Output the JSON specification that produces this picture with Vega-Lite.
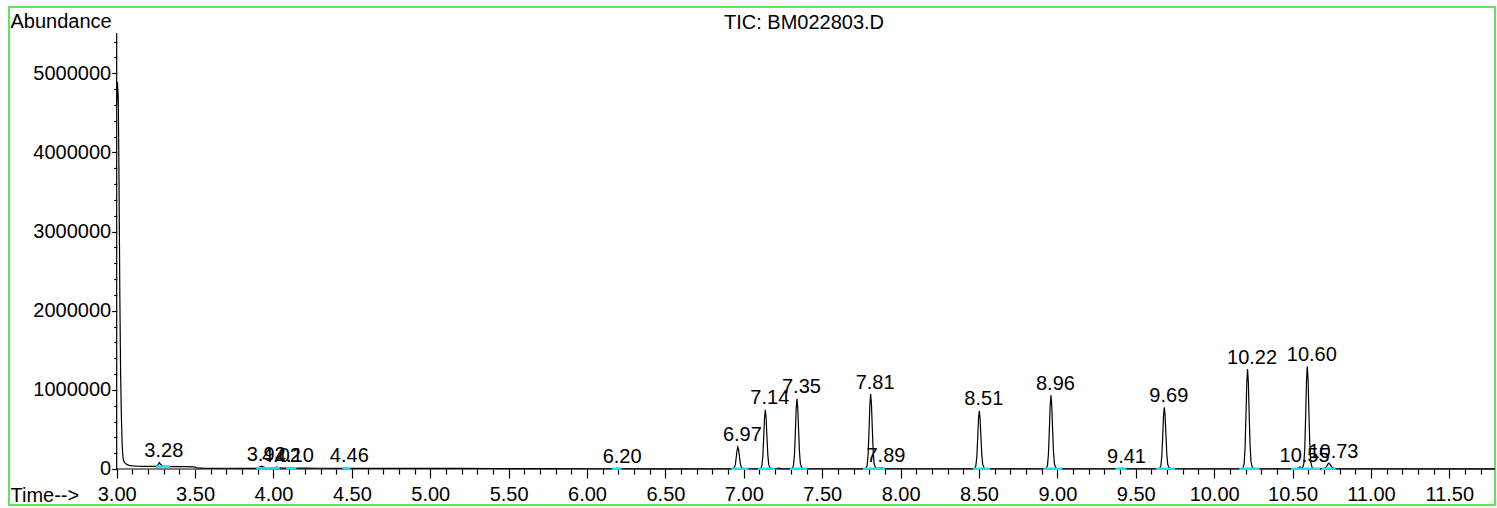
{
  "$schema": "https://vega.github.io/schema/vega-lite/v6.json",
  "width": 1486,
  "height": 498,
  "autosize": {"type": "none"},
  "padding": {"left": 9, "top": 7, "right": 2, "bottom": 3},
  "background": "white",
  "config": {"view": {"stroke": "#5be85b", "strokeWidth": 2}},
  "title": {"text": "TIC: BM022803.D", "font": "Liberation Sans", "fontSize": 20, "fontWeight": "normal", "color": "black", "anchor": "middle", "frame": "group", "dx": 52, "dy": 22, "offset": -20, "baseline": "alphabetic"},
  "datasets": {
    "yline": [{"t": 3.0, "a": 0, "a2": 5510000}],
    "xline": [{"t": 3.0, "t2": 11.7913, "a": 0}],
    "bases": [
      {"t": 3.25, "t2": 3.34, "a": 30000},
      {"t": 3.89, "t2": 3.98, "a": 9000},
      {"t": 3.98, "t2": 4.04, "a": 9000},
      {"t": 4.08, "t2": 4.145, "a": 9000},
      {"t": 4.44, "t2": 4.49, "a": 8000},
      {"t": 6.16, "t2": 6.22, "a": 3000},
      {"t": 6.92, "t2": 7.03, "a": 3000},
      {"t": 7.09, "t2": 7.20, "a": 3000},
      {"t": 7.295, "t2": 7.405, "a": 3000},
      {"t": 7.76, "t2": 7.83, "a": 3000},
      {"t": 7.83, "t2": 7.90, "a": 3000},
      {"t": 8.46, "t2": 8.57, "a": 3000},
      {"t": 8.91, "t2": 9.03, "a": 3000},
      {"t": 9.37, "t2": 9.44, "a": 3000},
      {"t": 9.63, "t2": 9.75, "a": 3000},
      {"t": 10.16, "t2": 10.29, "a": 3000},
      {"t": 10.49, "t2": 10.61, "a": 3000},
      {"t": 10.61, "t2": 10.675, "a": 3000},
      {"t": 10.685, "t2": 10.775, "a": 3000}
    ],
    "peaks": [
      {"t": 3.272, "a": 80000, "label": "3.28"},
      {"t": 3.925, "a": 35000, "label": "3.92"},
      {"t": 4.022, "a": 25000, "label": "4.02"},
      {"t": 4.105, "a": 18000, "label": "4.10"},
      {"t": 4.455, "a": 14000, "label": "4.46"},
      {"t": 6.195, "a": 10000, "label": "6.20"},
      {"t": 6.962, "a": 278000, "label": "6.97"},
      {"t": 7.137, "a": 748000, "label": "7.14"},
      {"t": 7.339, "a": 888000, "label": "7.35"},
      {"t": 7.809, "a": 947000, "label": "7.81"},
      {"t": 7.878, "a": 15000, "label": "7.89"},
      {"t": 8.502, "a": 736000, "label": "8.51"},
      {"t": 8.959, "a": 930000, "label": "8.96"},
      {"t": 9.412, "a": 12000, "label": "9.41"},
      {"t": 9.682, "a": 778000, "label": "9.69"},
      {"t": 10.213, "a": 1263000, "label": "10.22"},
      {"t": 10.548, "a": 25000, "label": "10.55"},
      {"t": 10.594, "a": 1296000, "label": "10.60"},
      {"t": 10.732, "a": 75000, "label": "10.73"}
    ],
    "trace": [
      {"t": 3.000, "a": 4600000}, {"t": 3.005, "a": 4890000}, {"t": 3.010, "a": 4700000}, {"t": 3.015, "a": 3600000},
      {"t": 3.020, "a": 2200000}, {"t": 3.025, "a": 1200000}, {"t": 3.030, "a": 660000}, {"t": 3.035, "a": 300000},
      {"t": 3.040, "a": 150000}, {"t": 3.045, "a": 100000}, {"t": 3.050, "a": 80000}, {"t": 3.060, "a": 62000},
      {"t": 3.070, "a": 52000}, {"t": 3.080, "a": 46000}, {"t": 3.100, "a": 40000}, {"t": 3.130, "a": 36000},
      {"t": 3.160, "a": 34000}, {"t": 3.200, "a": 33000}, {"t": 3.240, "a": 32000}, {"t": 3.255, "a": 33000},
      {"t": 3.265, "a": 55000}, {"t": 3.272, "a": 80000}, {"t": 3.280, "a": 60000}, {"t": 3.290, "a": 38000},
      {"t": 3.300, "a": 32000}, {"t": 3.350, "a": 31000}, {"t": 3.400, "a": 30000}, {"t": 3.450, "a": 29000},
      {"t": 3.490, "a": 28000}, {"t": 3.500, "a": 24000}, {"t": 3.510, "a": 16000}, {"t": 3.520, "a": 12000},
      {"t": 3.550, "a": 10000}, {"t": 3.600, "a": 9000}, {"t": 3.700, "a": 9500}, {"t": 3.800, "a": 9000},
      {"t": 3.880, "a": 9000}, {"t": 3.905, "a": 15000}, {"t": 3.915, "a": 28000}, {"t": 3.925, "a": 35000},
      {"t": 3.935, "a": 28000}, {"t": 3.950, "a": 15000}, {"t": 3.980, "a": 11000}, {"t": 4.005, "a": 15000},
      {"t": 4.015, "a": 22000}, {"t": 4.022, "a": 25000}, {"t": 4.030, "a": 18000}, {"t": 4.050, "a": 11000},
      {"t": 4.090, "a": 12000}, {"t": 4.105, "a": 18000}, {"t": 4.115, "a": 12000}, {"t": 4.200, "a": 10000},
      {"t": 4.300, "a": 9500}, {"t": 4.440, "a": 9000}, {"t": 4.455, "a": 14000}, {"t": 4.470, "a": 9000},
      {"t": 4.600, "a": 8500}, {"t": 4.800, "a": 8000}, {"t": 5.000, "a": 7500}, {"t": 5.200, "a": 7000},
      {"t": 5.400, "a": 6500}, {"t": 5.500, "a": 6000}, {"t": 5.560, "a": 4000}, {"t": 5.700, "a": 3500},
      {"t": 6.000, "a": 3000}, {"t": 6.180, "a": 3000}, {"t": 6.195, "a": 10000}, {"t": 6.210, "a": 3000},
      {"t": 6.500, "a": 2500}, {"t": 6.932, "a": 3000},
      {"t": 6.940, "a": 16750}, {"t": 6.946, "a": 58000}, {"t": 6.952, "a": 151500}, {"t": 6.957, "a": 239500},
      {"t": 6.962, "a": 278000}, {"t": 6.967, "a": 242250}, {"t": 6.972, "a": 159750}, {"t": 6.978, "a": 69000},
      {"t": 6.984, "a": 22250}, {"t": 6.992, "a": 7125}, {"t": 7.002, "a": 3000}, {"t": 7.107, "a": 3000},
      {"t": 7.115, "a": 40250}, {"t": 7.121, "a": 152000}, {"t": 7.127, "a": 405300}, {"t": 7.132, "a": 643700},
      {"t": 7.137, "a": 748000}, {"t": 7.142, "a": 651150}, {"t": 7.147, "a": 427650}, {"t": 7.153, "a": 181800},
      {"t": 7.159, "a": 55150}, {"t": 7.167, "a": 14175}, {"t": 7.177, "a": 5000}, {"t": 7.190, "a": 4000},
      {"t": 7.210, "a": 6000}, {"t": 7.222, "a": 12000}, {"t": 7.235, "a": 4000}, {"t": 7.309, "a": 3000},
      {"t": 7.317, "a": 47250}, {"t": 7.323, "a": 180000}, {"t": 7.329, "a": 480900}, {"t": 7.334, "a": 764100},
      {"t": 7.339, "a": 888000}, {"t": 7.344, "a": 772950}, {"t": 7.349, "a": 507450}, {"t": 7.355, "a": 215400},
      {"t": 7.361, "a": 64950}, {"t": 7.369, "a": 16275}, {"t": 7.379, "a": 3000}, {"t": 7.779, "a": 3000},
      {"t": 7.787, "a": 50200}, {"t": 7.793, "a": 191800}, {"t": 7.799, "a": 512760}, {"t": 7.804, "a": 814840},
      {"t": 7.809, "a": 947000}, {"t": 7.814, "a": 824280}, {"t": 7.819, "a": 541080}, {"t": 7.825, "a": 229560},
      {"t": 7.831, "a": 69080}, {"t": 7.839, "a": 17160}, {"t": 7.850, "a": 8000}, {"t": 7.865, "a": 10000},
      {"t": 7.878, "a": 15000}, {"t": 7.890, "a": 8000}, {"t": 7.910, "a": 3000}, {"t": 8.472, "a": 3000},
      {"t": 8.480, "a": 39650}, {"t": 8.486, "a": 149600}, {"t": 8.492, "a": 398820}, {"t": 8.497, "a": 633380},
      {"t": 8.502, "a": 736000}, {"t": 8.507, "a": 640710}, {"t": 8.512, "a": 420810}, {"t": 8.518, "a": 178920},
      {"t": 8.524, "a": 54310}, {"t": 8.532, "a": 13995}, {"t": 8.542, "a": 3000}, {"t": 8.929, "a": 3000},
      {"t": 8.937, "a": 49350}, {"t": 8.943, "a": 188400}, {"t": 8.949, "a": 503580}, {"t": 8.954, "a": 800220},
      {"t": 8.959, "a": 930000}, {"t": 8.964, "a": 809490}, {"t": 8.969, "a": 531390}, {"t": 8.975, "a": 225480},
      {"t": 8.981, "a": 67890}, {"t": 8.989, "a": 16905}, {"t": 8.999, "a": 3000}, {"t": 9.390, "a": 3000},
      {"t": 9.405, "a": 8000}, {"t": 9.412, "a": 12000}, {"t": 9.420, "a": 7000}, {"t": 9.435, "a": 3000},
      {"t": 9.652, "a": 3000}, {"t": 9.660, "a": 41750}, {"t": 9.666, "a": 158000}, {"t": 9.672, "a": 421500},
      {"t": 9.677, "a": 669500}, {"t": 9.682, "a": 778000}, {"t": 9.687, "a": 677250}, {"t": 9.692, "a": 444750},
      {"t": 9.698, "a": 189000}, {"t": 9.704, "a": 57250}, {"t": 9.712, "a": 14625}, {"t": 9.722, "a": 3000},
      {"t": 10.183, "a": 3000}, {"t": 10.191, "a": 66000}, {"t": 10.197, "a": 255000}, {"t": 10.203, "a": 683400},
      {"t": 10.208, "a": 1086600}, {"t": 10.213, "a": 1263000}, {"t": 10.218, "a": 1099200}, {"t": 10.223, "a": 721200},
      {"t": 10.229, "a": 305400}, {"t": 10.235, "a": 91200}, {"t": 10.243, "a": 21900}, {"t": 10.253, "a": 3000},
      {"t": 10.520, "a": 3000}, {"t": 10.540, "a": 15000}, {"t": 10.548, "a": 25000}, {"t": 10.556, "a": 18000},
      {"t": 10.564, "a": 10000}, {"t": 10.572, "a": 69650}, {"t": 10.578, "a": 261600}, {"t": 10.584, "a": 701220},
      {"t": 10.589, "a": 1114980}, {"t": 10.594, "a": 1296000}, {"t": 10.599, "a": 1127910}, {"t": 10.604, "a": 740010},
      {"t": 10.610, "a": 313320}, {"t": 10.616, "a": 93510}, {"t": 10.624, "a": 22395}, {"t": 10.634, "a": 5000},
      {"t": 10.700, "a": 4000}, {"t": 10.715, "a": 25000}, {"t": 10.725, "a": 62000}, {"t": 10.732, "a": 75000},
      {"t": 10.740, "a": 55000}, {"t": 10.750, "a": 25000}, {"t": 10.765, "a": 6000}, {"t": 10.780, "a": 3000},
      {"t": 11.790, "a": 2000}
    ]
  },
  "encoding": {
    "x": {
      "field": "t", "type": "quantitative",
      "scale": {"domain": [2.3131, 11.7913], "nice": false, "zero": false},
      "axis": {
        "orient": "bottom", "offset": -36, "domain": false, "grid": false,
        "values": [3.0,3.1,3.2,3.3,3.4,3.5,3.6,3.7,3.8,3.9,4.0,4.1,4.2,4.3,4.4,4.5,4.6,4.7,4.8,4.9,5.0,5.1,5.2,5.3,5.4,5.5,5.6,5.7,5.8,5.9,6.0,6.1,6.2,6.3,6.4,6.5,6.6,6.7,6.8,6.9,7.0,7.1,7.2,7.3,7.4,7.5,7.6,7.7,7.8,7.9,8.0,8.1,8.2,8.3,8.4,8.5,8.6,8.7,8.8,8.9,9.0,9.1,9.2,9.3,9.4,9.5,9.6,9.7,9.8,9.9,10.0,10.1,10.2,10.3,10.4,10.5,10.6,10.7,10.8,10.9,11.0,11.1,11.2,11.3,11.4,11.5,11.6,11.7],
        "labelExpr": "abs(round(datum.value*10) % 5) == 0 ? format(datum.value, '.2f') : ''",
        "tickSize": {"condition": {"test": "abs(round(datum.value*10) % 5) == 0", "value": 9}, "value": 5},
        "tickColor": "black", "tickWidth": 1.2,
        "labelFont": "Liberation Sans", "labelFontSize": 20, "labelColor": "black", "labelPadding": 6,
        "labelOverlap": false, "labelBound": false, "labelFlush": false,
        "title": "Time-->", "titleFont": "Liberation Sans", "titleFontSize": 20, "titleFontWeight": "normal", "titleColor": "black",
        "titleX": 1, "titleY": 32, "titleAlign": "left", "titleBaseline": "alphabetic", "titleAngle": 0
      }
    },
    "y": {
      "field": "a", "type": "quantitative",
      "scale": {"domain": [-454900, 5837800], "nice": false, "zero": false},
      "axis": {
        "orient": "left", "offset": -107.7, "domain": false, "grid": false,
        "values": [0,200000,400000,600000,800000,1000000,1200000,1400000,1600000,1800000,2000000,2200000,2400000,2600000,2800000,3000000,3200000,3400000,3600000,3800000,4000000,4200000,4400000,4600000,4800000,5000000,5200000,5400000],
        "format": "d",
        "labelExpr": "datum.value % 1000000 == 0 ? datum.label : ''",
        "tickSize": {"condition": {"test": "datum.value % 1000000 == 0", "value": 5}, "value": 3},
        "tickColor": "black", "tickWidth": 1.2,
        "labelFont": "Liberation Sans", "labelFontSize": 20, "labelColor": "black", "labelPadding": 1,
        "labelOverlap": false, "labelBound": false, "labelFlush": false,
        "title": "Abundance", "titleFont": "Liberation Sans", "titleFontSize": 20, "titleFontWeight": "normal", "titleColor": "black",
        "titleX": -106.7, "titleY": 20, "titleAlign": "left", "titleBaseline": "alphabetic", "titleAngle": 0
      }
    }
  },
  "layer": [
    {"data": {"name": "yline"}, "mark": {"type": "rule", "color": "black", "strokeWidth": 1.2}, "encoding": {"y2": {"field": "a2"}}},
    {"data": {"name": "xline"}, "mark": {"type": "rule", "color": "black", "strokeWidth": 1.2}, "encoding": {"x2": {"field": "t2"}}},
    {"data": {"name": "peaks"}, "mark": {"type": "text", "font": "Liberation Sans", "fontSize": 20, "color": "black", "align": "center", "baseline": "alphabetic", "dx": 4.5, "dy": -5.5}, "encoding": {"text": {"field": "label"}}},
    {"data": {"name": "trace"}, "mark": {"type": "line", "color": "black", "strokeWidth": 1.2}, "encoding": {}},
    {"data": {"name": "bases"}, "mark": {"type": "rule", "color": "#1fe0f0", "strokeWidth": 2.5}, "encoding": {"x2": {"field": "t2"}}}
  ]
}
